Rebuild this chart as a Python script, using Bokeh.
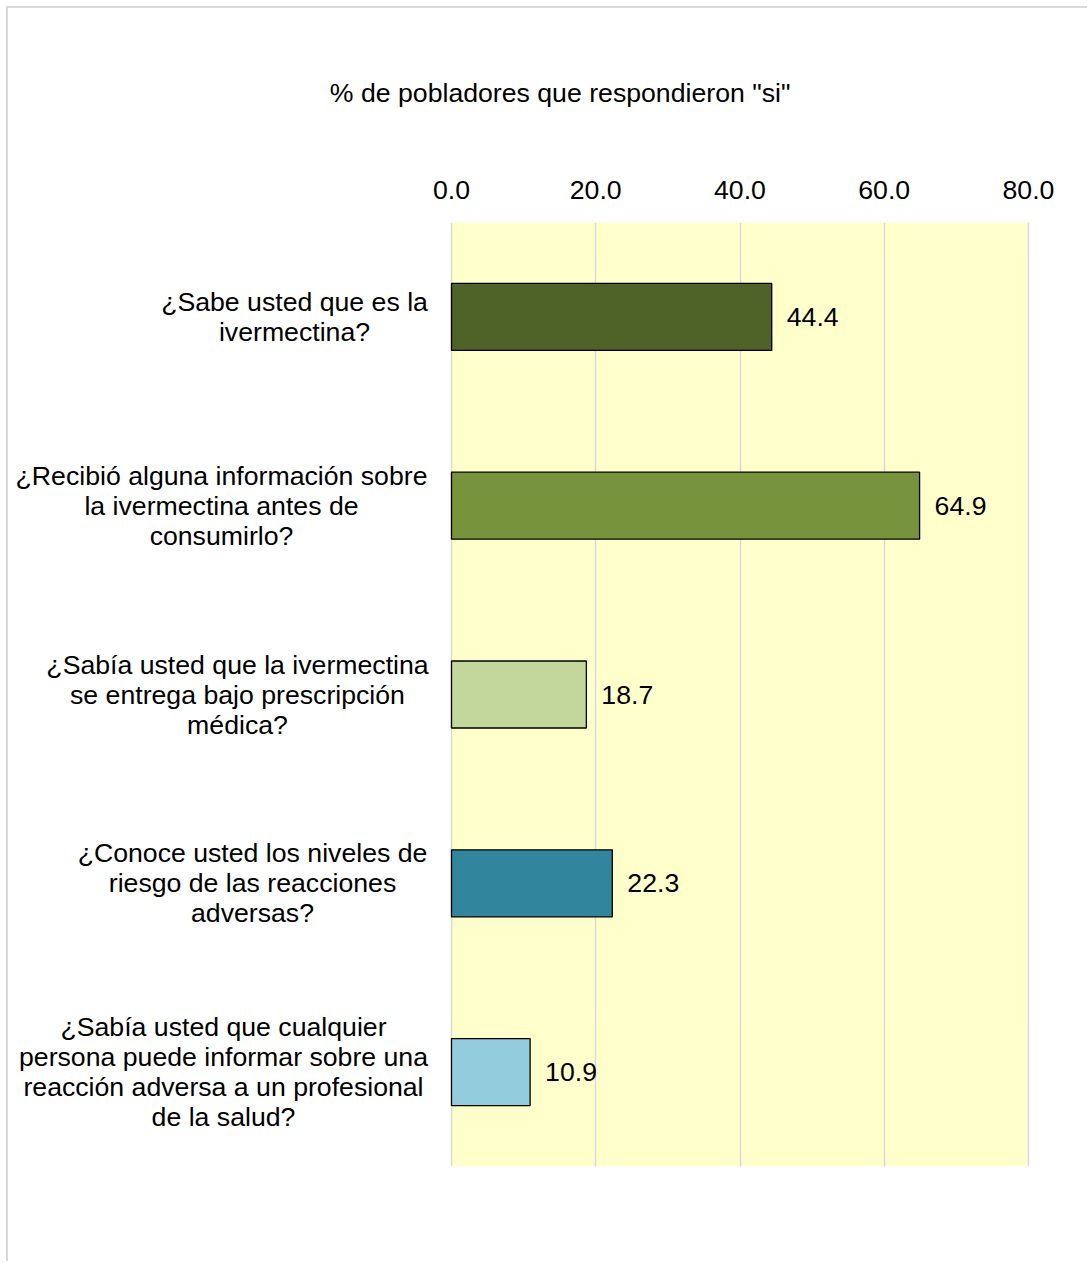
from bokeh.plotting import figure
from bokeh.models import (ColumnDataSource, FactorRange, FixedTicker, NumeralTickFormatter,
                          BoxAnnotation, Range1d)
from bokeh.core.properties import value
from bokeh.embed import file_html
from bokeh.resources import INLINE

# ---- data ----
categories = [
    "¿Sabe usted que es la\nivermectina?",
    "¿Recibió alguna información sobre\nla ivermectina antes de\nconsumirlo?",
    "¿Sabía usted que la ivermectina\nse entrega bajo prescripción\nmédica?",
    "¿Conoce usted los niveles de\nriesgo de las reacciones\nadversas?",
    "¿Sabía usted que cualquier\npersona puede informar sobre una\nreacción adversa a un profesional\nde la salud?",
]
values = [44.4, 64.9, 18.7, 22.3, 10.9]
bar_colors = ["#4F6228", "#77933C", "#C3D69B", "#31859C", "#93CDDD"]
x_ticks = [0, 20, 40, 60, 80]
axis_title = '% de pobladores que respondieron "si"'

# ---- layout (canvas px) ----
W, H = 1081, 1255
AREA_LEFT, AREA_RIGHT = 443, 1020
FRAME_TOP, FRAME_BOTTOM = 214, 1158
TITLE_SHIFT = "\u00a0\u00a0\u00a0"   # nudges the centred axis title slightly right
label_offsets = [-157, -230, -214, -199, -228]   # px from the 0 line to each label's centre
FONT = "Liberation Sans"
FS = "20pt"

k = (AREA_RIGHT - AREA_LEFT) / (x_ticks[-1] - x_ticks[0])
x0 = x_ticks[0]

src = ColumnDataSource(dict(
    cat=categories, val=values, color=bar_colors,
    txt=[f"{v:.1f}" for v in values],
    zero=[x0] * len(values), loff=label_offsets,
))

p = figure(width=W, height=H,
           y_range=FactorRange(factors=categories[::-1]),
           x_range=Range1d(x0 - AREA_LEFT / k, x0 + (W - AREA_LEFT) / k),
           x_axis_location="above", y_axis_location=None,
           output_backend="svg", toolbar_location=None,
           min_border_left=0, min_border_right=0,
           min_border_top=FRAME_TOP, min_border_bottom=H - FRAME_BOTTOM)

p.styles = {"margin-left": "6px", "margin-top": "6px",
            "border-left": "2px solid #D9D9D9", "border-top": "2px solid #D9D9D9"}

p.background_fill_color = "white"
p.border_fill_color = "white"
p.outline_line_color = None

# plot area background
p.add_layout(BoxAnnotation(left=x_ticks[0], right=x_ticks[-1], level="image",
                           fill_color="#FFFFCC", fill_alpha=1, line_color=None))

p.hbar(y="cat", left=0, right="val", height=0.355, fill_color="color",
       line_color="black", line_width=1.3, source=src)

p.text(x="val", y="cat", text="txt", x_offset=15, text_baseline="middle",
       text_align="left", text_font=value(FONT), text_font_size=FS,
       text_color="black", source=src)

p.text(x="zero", y="cat", text="cat", x_offset="loff", text_baseline="middle",
       text_align="center", text_font=value(FONT), text_font_size=FS,
       text_color="black", text_line_height=1.0, source=src)

ax = p.xaxis[0]
ax.ticker = FixedTicker(ticks=x_ticks)
ax.formatter = NumeralTickFormatter(format="0.0")
ax.axis_label = TITLE_SHIFT + axis_title
ax.axis_label_text_font = FONT
ax.axis_label_text_font_size = FS
ax.axis_label_text_font_style = "normal"
ax.axis_label_text_color = "black"
ax.axis_label_standoff = 70
ax.axis_line_color = None
ax.major_tick_line_color = None
ax.minor_tick_line_color = None
ax.major_tick_out = 0
ax.major_label_text_font = FONT
ax.major_label_text_font_size = FS
ax.major_label_text_color = "black"
ax.major_label_standoff = 24

p.xgrid.ticker = FixedTicker(ticks=x_ticks)
p.xgrid.grid_line_color = "#D9D9D9"
p.xgrid.grid_line_width = 1.5
p.ygrid.grid_line_color = None

open("out.html", "w").write(file_html(p, INLINE))
